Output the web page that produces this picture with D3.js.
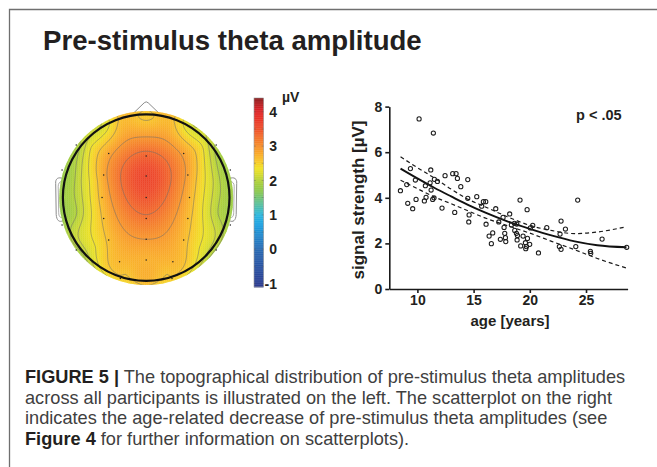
<!DOCTYPE html>
<html><head><meta charset="utf-8">
<script src="https://cdn.jsdelivr.net/npm/d3@7"></script>
<style>html,body{margin:0;padding:0;background:#fff;} svg{display:block;font-family:"Liberation Sans",Arial,sans-serif;}</style>
</head><body><svg id="c" width="657" height="467"></svg>
<script>
// ---------- data ----------
const ages = [8.49, 9.05, 9.38, 9.14, 9.58, 9.82, 9.88, 10.15, 10.71, 10.62, 10.77, 11.13, 11.19, 11.22, 11.42, 11.36, 11.48, 11.51, 11.78, 12.19, 12.46, 13.14, 13.44, 13.56, 13.32, 13.86, 14.48, 14.48, 14.6, 14.57, 15.28, 15.72, 15.87, 16.08, 16.11, 16.97, 16.38, 16.7, 16.58, 17.24, 17.38, 17.62, 17.71, 17.77, 17.83, 17.86, 18.21, 18.36, 18.66, 18.84, 18.81, 18.9, 18.87, 19.13, 19.19, 19.4, 19.61, 19.7, 19.64, 19.76, 19.79, 19.99, 20.05, 20.26, 20.77, 21.51, 22.69, 22.78, 22.63, 22.78, 23.17, 24.09, 24.26, 25.39, 25.42, 26.43, 28.62, 18.63];
const amps = [4.31, 4.58, 5.28, 3.76, 3.52, 4.78, 3.93, 7.46, 4.53, 3.86, 4.02, 4.66, 5.22, 4.34, 6.84, 3.93, 4.0, 4.81, 4.72, 3.55, 4.97, 5.06, 5.06, 4.85, 3.36, 4.49, 4.8, 3.98, 3.25, 2.94, 4.05, 3.63, 3.83, 3.83, 2.84, 3.52, 2.32, 2.46, 1.99, 2.94, 2.18, 3.14, 2.7, 2.44, 2.25, 2.08, 3.29, 2.81, 2.57, 2.85, 2.44, 2.35, 2.15, 3.9, 1.89, 2.32, 2.03, 1.86, 1.77, 3.48, 2.22, 1.96, 2.68, 2.79, 1.58, 2.69, 2.41, 2.98, 1.86, 1.74, 2.63, 1.86, 3.9, 1.65, 1.56, 2.19, 1.83, 2.88];

const fitAges  = [8.5, 10, 11.5, 13, 14.5, 16, 18, 20, 22, 24, 26, 28.6];
const fitMean  = [5.28, 4.85, 4.44, 4.06, 3.69, 3.36, 2.97, 2.64, 2.34, 2.09, 1.92, 1.83];
const fitUpper = [5.80, 5.32, 4.87, 4.38, 3.94, 3.61, 3.17, 2.79, 2.56, 2.43, 2.50, 2.73];
const fitLower = [4.77, 4.40, 4.04, 3.74, 3.43, 3.12, 2.78, 2.45, 2.08, 1.72, 1.34, 0.92];

const xTicks = [10, 15, 20, 25];
const yTicks = [0, 2, 4, 6, 8];
const cbTicks = [-1, 0, 1, 2, 3, 4];

// electrodes (drawn as dots): normalized head coords (u right, v down), amplitude in µV
const elecU = [0, 0, 0, 0, 0, 0, -0.45, 0.45, -0.51, 0.50, -0.53, 0.52, -0.51, 0.50, -0.45, 0.45, -0.32, 0.32, -0.84, 0.84, -1.01, 1.01, -1.01, 1.01, -0.84, 0.84, -0.31, 0.31];
const elecV = [-0.50, -0.26, 0, 0.25, 0.50, 0.75, -0.53, -0.53, -0.27, -0.27, 0, 0, 0.25, 0.25, 0.51, 0.51, 0.77, 0.77, -0.63, -0.63, -0.33, -0.33, 0.33, 0.33, 0.63, 0.63, 0.97, 0.97];
const elecAmp = [3.4, 3.62, 3.5, 3.25, 2.95, 2.75, 2.85, 2.88, 2.85, 2.88, 2.7, 2.73, 2.65, 2.68, 2.65, 2.68, 2.7, 2.72, 1.93, 1.98, 1.8, 1.86, 1.8, 1.86, 1.92, 1.97, 2.55, 2.57];
// further amplitudes
const readU = [-0.62, 0.62, -0.78, 0.78, -0.92, 0.92, -0.62, 0.62, -0.76, 0.76, -0.9, 0.9, -0.65, 0.65, -0.62, 0.62, -0.3, 0.3, -0.25, 0.25];
const readV = [-0.2, -0.2, -0.2, -0.2, -0.2, -0.2, 0.2, 0.2, 0.2, 0.2, 0.2, 0.2, -0.6, -0.6, 0.6, 0.6, -0.88, -0.88, 0.92, 0.92];
const readAmp = [2.5, 2.55, 2.15, 2.2, 1.9, 1.95, 2.43, 2.47, 2.14, 2.18, 1.9, 1.95, 2.38, 2.43, 2.33, 2.38, 2.68, 2.68, 2.6, 2.6];
// amplitudes read at the map's rim (angle in degrees clockwise from the nose)
const rimAngle = [0, 30, 60, 90, 120, 150, 180, 210, 240, 270, 300, 330];
const rimAmp = [2.66, 2.2, 1.9, 1.83, 1.9, 2.2, 2.52, 2.18, 1.87, 1.78, 1.88, 2.18];
const contourLevels = [2.0, 2.15, 2.35, 2.6, 2.95, 3.3];

const cmapValues = [-1.1, -0.6, 0.0, 0.7, 1.0, 1.3, 1.7, 1.95, 2.15, 2.35, 2.55, 2.8, 3.05, 3.3, 3.55, 3.9, 4.1, 4.4];
const cmapColors = ["#2c3a8e", "#2a4f9f", "#2a6ab3", "#1f9fe0", "#2cb7df", "#58bfa0", "#8cc84e", "#a9cf3c", "#cfd932", "#efe224", "#f8c928", "#f9a82a", "#f6892a", "#f26b2b", "#ee4b2b", "#e52c28", "#d42228", "#8b1a1c"];

// ---------- drawing ----------
const svg = d3.select("#c");
const color = d3.scaleLinear().domain(cmapValues).range(cmapColors).clamp(true);

// frame
svg.append("path").attr("d", "M9.5,467 L9.5,9.5 L657,9.5").attr("fill", "none").attr("stroke", "#6f6f6f").attr("stroke-width", 1.3);

// title
svg.append("text").attr("x", 43).attr("y", 50).attr("font-size", 27.6).attr("font-weight", "bold").attr("fill", "#231f20").text("Pre-stimulus theta amplitude");

// ---------- topomap ----------
const cx = 146.2, cy = 197.6, R = 83.3, Rc = 87;
const hx = d3.scaleLinear().domain([-1, 1]).range([cx - R, cx + R]);
const hy = d3.scaleLinear().domain([-1, 1]).range([cy - R, cy + R]);

// interpolation nodes: electrodes + map readings + rim readings
const rimR = 1.08;
const nodeU = elecU.concat(readU, rimAngle.map(a => rimR * Math.sin(a * Math.PI / 180)));
const nodeV = elecV.concat(readV, rimAngle.map(a => -rimR * Math.cos(a * Math.PI / 180)));
const nodeZ = elecAmp.concat(readAmp, rimAmp);

// biharmonic spline interpolation
function green(r) { return r > 1e-9 ? r * r * (Math.log(r) - 1) : 0; }
const N = nodeU.length;
const A = [];
for (let i = 0; i < N; i++) {
  const row = [];
  for (let j = 0; j < N; j++) row.push(green(Math.hypot(nodeU[i] - nodeU[j], nodeV[i] - nodeV[j])));
  row.push(nodeZ[i]);
  A.push(row);
}
for (let k = 0; k < N; k++) {
  let p = k;
  for (let i = k + 1; i < N; i++) if (Math.abs(A[i][k]) > Math.abs(A[p][k])) p = i;
  [A[k], A[p]] = [A[p], A[k]];
  for (let i = k + 1; i < N; i++) {
    const f = A[i][k] / A[k][k];
    for (let j = k; j <= N; j++) A[i][j] -= f * A[k][j];
  }
}
const w = new Array(N).fill(0);
for (let i = N - 1; i >= 0; i--) {
  let s = A[i][N];
  for (let j = i + 1; j < N; j++) s -= A[i][j] * w[j];
  w[i] = s / A[i][i];
}
function field(u, v) {
  let s = 0;
  for (let j = 0; j < N; j++) s += w[j] * green(Math.hypot(u - nodeU[j], v - nodeV[j]));
  return s;
}

const cell = 2, n = 90;
const gx0 = cx - n * cell / 2, gy0 = cy - n * cell / 2;
const grid = new Array(n * n);
for (let j = 0; j < n; j++) for (let i = 0; i < n; i++) {
  const px = gx0 + (i + 0.5) * cell, py = gy0 + (j + 0.5) * cell;
  grid[j * n + i] = field(hx.invert(px), hy.invert(py));
}

const defs = svg.append("defs");
defs.append("clipPath").attr("id", "disk").append("circle").attr("cx", cx).attr("cy", cy + 0.5).attr("r", Rc);

// nose and ears (behind the disk)
const headG = svg.append("g").attr("fill", "#fff").attr("stroke", "#8c8c8c").attr("stroke-width", 1);
headG.append("path").attr("d", `M${cx-15},${cy-R+1} L${cx-2},${cy-R-11.5} Q${cx},${cy-R-13.5} ${cx+2},${cy-R-11.5} L${cx+15},${cy-R+1}`);
function ear(s) {
  const X = d => cx + s * d;
  headG.append("path").attr("d", `M${X(-83)},${cy-19} C${X(-88)},${cy-21} ${X(-91)},${cy-19} ${X(-90.5)},${cy-14} L${X(-90)},${cy+17} C${X(-89.5)},${cy+23} ${X(-87)},${cy+25} ${X(-83)},${cy+23}`);
  headG.append("path").attr("fill", "none").attr("stroke-width", 0.7).attr("d", `M${X(-84)},${cy-16} C${X(-87)},${cy-16} ${X(-88)},${cy-14} ${X(-88)},${cy-11} L${X(-87.5)},${cy+15} C${X(-87.5)},${cy+19} ${X(-86)},${cy+20} ${X(-84)},${cy+20}`);
}
ear(1); ear(-1);

const mapG = svg.append("g").attr("clip-path", "url(#disk)");
const cells = [];
for (let j = 0; j < n; j++) for (let i = 0; i < n; i++) cells.push({ i, j, v: grid[j * n + i] });
mapG.selectAll("rect").data(cells).join("rect")
  .attr("x", d => gx0 + d.i * cell).attr("y", d => gy0 + d.j * cell)
  .attr("width", cell + 0.3).attr("height", cell + 0.3)
  .attr("fill", d => color(d.v));

const contours = d3.contours().size([n, n]).thresholds(contourLevels)(grid);
const cpath = d3.geoPath(d3.geoIdentity().scale(cell).translate([gx0, gy0]));
mapG.selectAll("path.ct").data(contours).join("path").attr("class", "ct")
  .attr("d", cpath).attr("fill", "none").attr("stroke", "#6e6e6e").attr("stroke-opacity", 0.75).attr("stroke-width", 0.7);

// electrodes
svg.append("g").selectAll("circle").data(elecU.map((u, k) => [u, elecV[k]])).join("circle")
  .attr("cx", d => hx(d[0])).attr("cy", d => hy(d[1])).attr("r", 0.75).attr("fill", "#222");

// head outline
svg.append("circle").attr("cx", cx).attr("cy", cy).attr("r", R).attr("fill", "none").attr("stroke", "#111").attr("stroke-width", 2.2);

// ---------- colorbar ----------
const cbY = d3.scaleLinear().domain([-1.1, 4.4]).range([287, 98]);
const cbX = 254, cbW = 9.5;
const cbG = svg.append("g");
const steps = d3.range(-1.1, 4.4, 0.02);
cbG.selectAll("rect").data(steps).join("rect")
  .attr("x", cbX).attr("width", cbW).attr("y", d => cbY(d + 0.02)).attr("height", cbY(0) - cbY(0.02) + 0.4)
  .attr("fill", d => color(d + 0.01));
cbG.append("rect").attr("x", cbX).attr("y", 98).attr("width", cbW).attr("height", 189).attr("fill", "none").attr("stroke", "#9a9a9a").attr("stroke-width", 0.6);
cbG.selectAll("line.mt").data(d3.range(-1, 4.01, 0.5)).join("line").attr("class", "mt")
  .attr("x1", cbX).attr("x2", cbX + 1.8).attr("y1", d => cbY(d)).attr("y2", d => cbY(d)).attr("stroke", "#555").attr("stroke-width", 0.6).attr("opacity", 0.6);
cbG.selectAll("line.mt2").data(d3.range(-1, 4.01, 0.5)).join("line").attr("class", "mt2")
  .attr("x1", cbX + cbW - 1.8).attr("x2", cbX + cbW).attr("y1", d => cbY(d)).attr("y2", d => cbY(d)).attr("stroke", "#555").attr("stroke-width", 0.6).attr("opacity", 0.6);
cbG.selectAll("text").data(cbTicks).join("text")
  .attr("x", 277).attr("y", d => cbY(d)).attr("dy", "0.36em").attr("text-anchor", "end")
  .attr("font-size", 14).attr("font-weight", "bold").attr("fill", "#231f20").text(d => d);
svg.append("text").attr("x", 282).attr("y", 102).attr("font-size", 14).attr("font-weight", "bold").attr("fill", "#231f20").text("µV");

// ---------- scatterplot ----------
const x = d3.scaleLinear().domain([7.5, 28.7]).range([389.3, 627.6]);
const y = d3.scaleLinear().domain([0, 8]).range([289, 106.6]);

const xAxis = svg.append("g").attr("transform", "translate(0,289)")
  .call(d3.axisBottom(x).tickValues(xTicks).tickSize(4).tickSizeOuter(0).tickPadding(2));
const yAxis = svg.append("g").attr("transform", "translate(389.3,0)")
  .call(d3.axisLeft(y).tickValues(yTicks).tickSize(4).tickSizeOuter(0).tickPadding(3));
[xAxis, yAxis].forEach(g => {
  g.selectAll("path,line").attr("stroke", "#1a1a1a").attr("stroke-width", 1.6);
  g.selectAll("text").attr("font-size", 14).attr("font-weight", "bold").attr("fill", "#231f20")
    .attr("font-family", '"Liberation Sans", Arial, sans-serif');
});

const line = d3.line().x(d => x(d[0])).y(d => y(d[1])).curve(d3.curveMonotoneX);
svg.append("path").attr("d", line(fitAges.map((a, k) => [a, fitUpper[k]]))).attr("fill", "none").attr("stroke", "#1a1a1a").attr("stroke-width", 1.2).attr("stroke-dasharray", "4,3");
svg.append("path").attr("d", line(fitAges.map((a, k) => [a, fitLower[k]]))).attr("fill", "none").attr("stroke", "#1a1a1a").attr("stroke-width", 1.2).attr("stroke-dasharray", "4,3");
svg.append("path").attr("d", line(fitAges.map((a, k) => [a, fitMean[k]]))).attr("fill", "none").attr("stroke", "#111").attr("stroke-width", 1.9);

svg.append("g").selectAll("circle").data(ages.map((a, k) => [a, amps[k]])).join("circle")
  .attr("cx", d => x(d[0])).attr("cy", d => y(d[1])).attr("r", 2.1)
  .attr("fill", "none").attr("stroke", "#1e1e1e").attr("stroke-width", 1.05);

svg.append("text").attr("x", 576).attr("y", 119.5).attr("font-size", 14.5).attr("font-weight", "bold").attr("fill", "#231f20").text("p < .05");
svg.append("text").attr("x", 510).attr("y", 326).attr("text-anchor", "middle").attr("font-size", 15).attr("font-weight", "bold").attr("fill", "#231f20").text("age [years]");
svg.append("text").attr("transform", "translate(363.5,200) rotate(-90)").attr("text-anchor", "middle").attr("font-size", 17).attr("font-weight", "bold").attr("fill", "#231f20").text("signal strength [µV]");

// ---------- caption ----------
const capLines = [
  [["FIGURE 5 |", true], [" The topographical distribution of pre-stimulus theta amplitudes", false]],
  [["across all participants is illustrated on the left. The scatterplot on the right", false]],
  [["indicates the age-related decrease of pre-stimulus theta amplitudes (see", false]],
  [["Figure 4", true], [" for further information on scatterplots).", false]]
];
const cap = svg.append("g").attr("font-size", 18.2).attr("fill", "#404040");
capLines.forEach((ln, k) => {
  const t = cap.append("text").attr("x", 25).attr("y", 383.3 + k * 20.4).attr("xml:space", "preserve");
  ln.forEach(([s, b]) => t.append("tspan").attr("font-weight", b ? "bold" : "normal").attr("fill", b ? "#231f20" : "#404040").text(s));
});
</script></body></html>
